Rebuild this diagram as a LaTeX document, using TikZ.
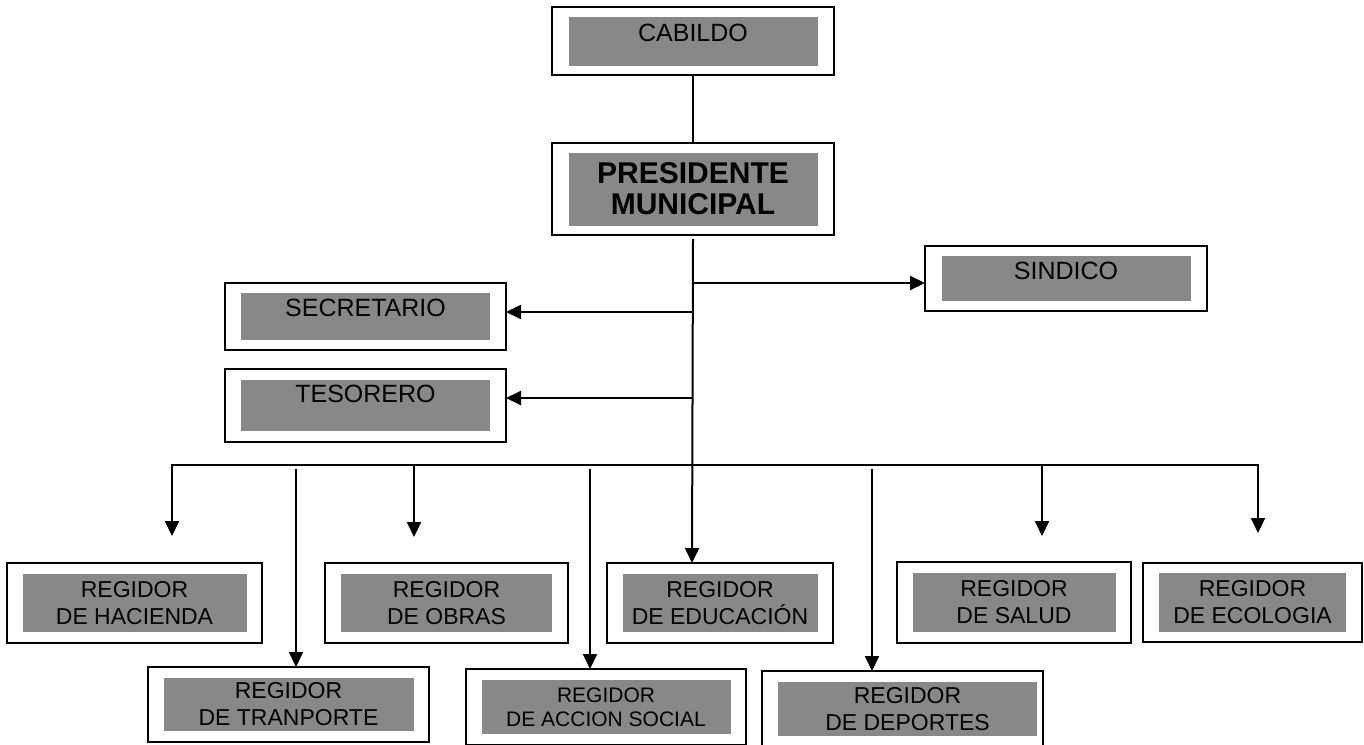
\documentclass[tikz,border=0pt]{standalone}
\usepackage{fontspec}
\setmainfont{Liberation Sans}
\usetikzlibrary{arrows.meta}
\definecolor{grisbox}{RGB}{136,136,136}
\tikzset{
  marco/.style={draw, line width=2pt, inner sep=0pt, outer sep=0pt},
  gris/.style={fill=grisbox, inner sep=0pt, outer sep=0pt, align=center},
  linea/.style={line width=2pt},
  flecha/.style={linea, -{Triangle[length=15pt,width=14pt]}},
  dobleflecha/.style={linea, {Triangle[length=15pt,width=14pt]}-{Triangle[length=15pt,width=14pt]}},
  titulo/.style={font=\fontsize{25}{28}\selectfont}
}
\begin{document}
\begin{tikzpicture}[x=1pt,y=-1pt]
\useasboundingbox (0,0) rectangle (1364,744);

\node[marco, minimum width=282pt, minimum height=68pt] (cabildo) at (693,41) {};
\node[gris, titulo, minimum width=249pt, text height=25pt, text depth=24pt] at (cabildo) {CABILDO};

\node[marco, minimum width=282pt, minimum height=92pt] (presidente) at (693,189) {};
\node[gris, minimum width=249pt, minimum height=73pt, font=\bfseries\fontsize{30}{31}\selectfont] at (presidente) {PRESIDENTE\\MUNICIPAL};

\node[marco, minimum width=282pt, minimum height=65pt] (sindico) at (1066,278.5) {};
\node[gris, titulo, minimum width=249pt, text height=23pt, text depth=22pt] at (sindico) {SINDICO};

\node[marco, minimum width=281pt, minimum height=67pt] (secretario) at (365.5,316.5) {};
\node[gris, titulo, minimum width=249pt, text height=23pt, text depth=24pt] at (secretario) {SECRETARIO};

\node[marco, minimum width=281pt, minimum height=73pt] (tesorero) at (365.5,405.5) {};
\node[gris, titulo, minimum width=249pt, text height=22pt, text depth=29pt] at (tesorero) {TESORERO};

\foreach \n/\x/\y/\w/\h/\gw/\gh/\dx/\fs/\bs/\t in {
    hacienda/134.5/603/255/80/224/58/0/23/27/{DE HACIENDA},
    obras/446.5/603/243/80/211/58/0/23/27/{DE OBRAS},
    educacion/720/603/226/80/195/58/0/23/27/{DE EDUCACIÓN},
    salud/1014/602.5/234/81/203/59/0/23/27/{DE SALUD},
    ecologia/1252.5/602.5/219/79/187/59/0/23/27/{DE ECOLOGIA},
    tranporte/288.5/704.5/281/75/250/53/0/23/27/{DE TRANPORTE},
    accion/606/707/280/76/249/54/0/21/24/{DE ACCION SOCIAL},
    deportes/902.5/709/281/76/259/54/5/23/27/{DE DEPORTES}}{
  \node[marco, minimum width=\w pt, minimum height=\h pt] (\n) at (\x,\y) {};
  \node[gris, minimum width=\gw pt, minimum height=\gh pt, xshift=\dx pt,
        font=\fontsize{\fs}{\bs}\selectfont] at (\n) {REGIDOR\\\t};
}

\coordinate (bus) at (692,465);
\coordinate (bus2) at (692,469);
\coordinate (s-in) at ([yshift=-4.5pt]sindico.west);
\coordinate (sec-in) at ([yshift=4.5pt]secretario.east);
\coordinate (tes-in) at ([yshift=7.5pt]tesorero.east);

\foreach \n/\dx/\gap in {hacienda/37.5/27, obras/-32.5/26, salud/28/26, ecologia/5.5/30,
    tranporte/7.5/0, accion/-16/0, deportes/-30.5/0, educacion/-28/0}
  \coordinate (\n-a) at ([xshift=\dx pt, yshift=\gap pt]\n.north);

\draw[linea] (cabildo) -- (presidente);
\draw[flecha] ([yshift=-4pt]presidente.south) -- (educacion-a);
\draw[flecha] (s-in -| presidente.south) -- (s-in);
\draw[flecha] (sec-in -| presidente.south) -- (sec-in);
\draw[flecha] (tes-in -| presidente.south) -- (tes-in);
\draw[dobleflecha] (hacienda-a) |- (bus) -| (ecologia-a);
\draw[flecha] (obras-a |- bus) -- (obras-a);
\draw[flecha] (salud-a |- bus) -- (salud-a);
\foreach \n in {tranporte, accion, deportes}
  \draw[flecha] (\n-a |- bus2) -- (\n-a);
\end{tikzpicture}
\end{document}
